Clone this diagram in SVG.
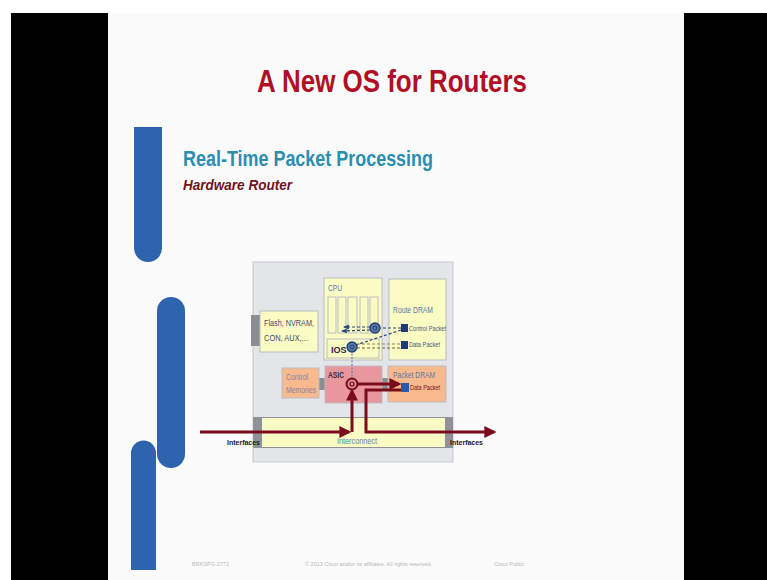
<svg xmlns="http://www.w3.org/2000/svg" width="767" height="580" viewBox="0 0 767 580">
<defs>
<style>
.box{stroke:#b9bdc4;stroke-width:1}
.yel{fill:#fbfbc4}
.org{fill:#f8ba8c}
.lbl{font-family:"Liberation Sans",Arial,sans-serif;font-size:8.5px;fill:#5a78a8}
.tiny{font-family:"Liberation Sans",Arial,sans-serif;font-size:6.5px;fill:#4a5a80}
.red{stroke:#7a0d1c;stroke-width:3;fill:none}
.dash{stroke:#2c4a7a;stroke-width:1.2;fill:none;stroke-dasharray:3 2}
.foot{font-family:"Liberation Sans",Arial,sans-serif;font-size:5.5px;fill:#b8b8b8}
</style>
<marker id="ar" viewBox="0 0 10 10" refX="8" refY="5" markerWidth="4" markerHeight="4" orient="auto"><path d="M0,0 L10,5 L0,10 z" fill="#7a0d1c"/></marker>
<marker id="ab" viewBox="0 0 10 10" refX="8" refY="5" markerWidth="5" markerHeight="5" orient="auto"><path d="M0,1 L10,5 L0,9 z" fill="#2c4a7a"/></marker>
</defs>
<rect width="767" height="580" fill="#ffffff"/>
<rect x="11" y="13" width="756" height="567" fill="#000000"/>
<rect x="108" y="13" width="576" height="567" fill="#fbfbfb"/>
<g id="bars" fill="#2e63ae">
<path d="M134,127 H162 V248 A14,14 0 0 1 134,248 Z"/>
<path d="M157,311 A14,14 0 0 1 185,311 V454 A14,14 0 0 1 157,454 Z"/>
<path d="M131,453 A12.5,12.5 0 0 1 156,453 V570 H131 Z"/>
</g>
<text x="392" y="92" text-anchor="middle" font-family="Liberation Sans,Arial,sans-serif" font-weight="bold" font-size="31" fill="#b01025" textLength="270" lengthAdjust="spacingAndGlyphs">A New OS for Routers</text>
<text x="183" y="166" font-family="Liberation Sans,Arial,sans-serif" font-weight="bold" font-size="22" fill="#2b8db0" textLength="250" lengthAdjust="spacingAndGlyphs">Real-Time Packet Processing</text>
<text x="183" y="190" font-family="Liberation Sans,Arial,sans-serif" font-weight="bold" font-style="italic" font-size="15.5" fill="#6e1424" textLength="109" lengthAdjust="spacingAndGlyphs">Hardware Router</text>
<g id="chassis"><rect x="253" y="262" width="200" height="200" fill="#e3e5e9" stroke="#c4c7cc"/></g>
<g id="flash">
<rect x="251" y="315" width="10" height="31" fill="#8a8d93"/>
<rect x="260" y="311" width="58" height="41" class="box yel"/>
<text x="264" y="326" class="lbl" fill="#3d4d70" style="fill:#3d4d70" textLength="50" lengthAdjust="spacingAndGlyphs">Flash, NVRAM,</text>
<text x="264" y="341" class="lbl" style="fill:#3d4d70" textLength="44" lengthAdjust="spacingAndGlyphs">CON, AUX,...</text>
</g>
<g id="cpu">
<rect x="324" y="278" width="58" height="82" class="box yel"/>
<text x="328" y="291" class="lbl" textLength="14" lengthAdjust="spacingAndGlyphs">CPU</text>
<rect x="328" y="297" width="8" height="36" class="box yel"/>
<rect x="338" y="297" width="8" height="36" class="box yel"/>
<rect x="348" y="297" width="9" height="36" class="box yel"/>
<rect x="360" y="297" width="8" height="36" class="box yel"/>
<rect x="370" y="297" width="8" height="36" class="box yel"/>
<rect x="327" y="339" width="52" height="19" class="box yel"/>
<text x="331" y="353" font-family="Liberation Sans,Arial,sans-serif" font-weight="bold" font-size="9" fill="#2a2a3a">IOS</text>
</g>
<g id="routedram">
<rect x="389" y="279" width="57" height="81" class="box yel"/>
<text x="393" y="313" class="lbl" textLength="40" lengthAdjust="spacingAndGlyphs">Route DRAM</text>
<rect x="401" y="324" width="7" height="8" fill="#1e3a78"/>
<rect x="401" y="341" width="7" height="8" fill="#1e3a78"/>
<text x="409" y="331" class="tiny" textLength="37" lengthAdjust="spacingAndGlyphs">Control Packet</text>
<text x="409" y="347" class="tiny" textLength="31" lengthAdjust="spacingAndGlyphs">Data Packet</text>
</g>
<g id="ctrlmem">
<rect x="319" y="378" width="7" height="12" fill="#8a8d93"/>
<rect x="282" y="368" width="37" height="30" class="box org"/>
<text x="286" y="380" class="lbl" style="fill:#8a82a8" textLength="22" lengthAdjust="spacingAndGlyphs">Control</text>
<text x="286" y="393" class="lbl" style="fill:#8a82a8" textLength="30" lengthAdjust="spacingAndGlyphs">Memories</text>
</g>
<g id="asic">
<rect x="382" y="378" width="7" height="12" fill="#8a8d93"/>
<rect x="325" y="366" width="57" height="37" class="box" fill="#e8979d"/>
<text x="328" y="378" font-family="Liberation Sans,Arial,sans-serif" font-weight="bold" font-size="8.5" fill="#3a2a3a" textLength="16" lengthAdjust="spacingAndGlyphs">ASIC</text>
</g>
<g id="packetdram">
<rect x="388" y="366" width="58" height="36" class="box org"/>
<text x="393" y="378" class="lbl" textLength="42" lengthAdjust="spacingAndGlyphs">Packet DRAM</text>
<rect x="401" y="383" width="8" height="9" fill="#2a5aa8"/>
<text x="410" y="390" class="tiny" style="fill:#7a1020" textLength="30" lengthAdjust="spacingAndGlyphs">Data Packet</text>
</g>
<g id="interconnect">
<rect x="253" y="417" width="200" height="31" fill="#8f9298"/>
<rect x="262" y="418" width="183" height="29" fill="#fbfbc4"/>
<text x="357" y="444" text-anchor="middle" font-family="Liberation Sans,Arial,sans-serif" font-size="9.5" fill="#5a88b8" textLength="40" lengthAdjust="spacingAndGlyphs">Interconnect</text>
</g>
<g id="connectors">
<line x1="352" y1="350" x2="352" y2="378" stroke="#6a8aa8" stroke-width="1.3" stroke-dasharray="2 1.5"/>
<line x1="401" y1="328" x2="380" y2="328" class="dash"/>
<line x1="370" y1="327" x2="344" y2="327" class="dash" marker-end="url(#ab)"/>
<line x1="370" y1="330" x2="342" y2="331" class="dash" marker-end="url(#ab)"/>
<line x1="401" y1="330" x2="356" y2="345" class="dash"/>
<line x1="357" y1="344" x2="400" y2="344" stroke="#8a8a40" stroke-width="1.2" stroke-dasharray="3 2"/>
<line x1="357" y1="348" x2="400" y2="348" stroke="#6a6a30" stroke-width="1.2" stroke-dasharray="3 2"/>
<circle cx="375" cy="328" r="5" fill="#5a7aa8" stroke="#1e3a78" stroke-width="1.3"/>
<circle cx="375" cy="328" r="2" fill="none" stroke="#1e3a78" stroke-width="1"/>
<circle cx="352" cy="347" r="5" fill="#5a7aa8" stroke="#1e3a78" stroke-width="1.3"/>
<circle cx="352" cy="347" r="2" fill="none" stroke="#1e3a78" stroke-width="1"/>
<polyline points="200,432 349,432" class="red" marker-end="url(#ar)"/>
<polyline points="352,432 352,391" class="red" marker-end="url(#ar)"/>
<polyline points="357,384 399,384" class="red" marker-end="url(#ar)"/>
<polyline points="401,390 366,390 366,432 494,432" class="red" marker-end="url(#ar)"/>
<circle cx="352" cy="384" r="5.5" fill="#d98a92" stroke="#7a0d1c" stroke-width="2"/>
<circle cx="352" cy="384" r="2" fill="none" stroke="#7a0d1c" stroke-width="1.2"/>
</g>
<text x="227" y="445" font-family="Liberation Sans,Arial,sans-serif" font-weight="bold" font-size="8" fill="#1a1a1a" textLength="33" lengthAdjust="spacingAndGlyphs">Interfaces</text>
<text x="450" y="445" font-family="Liberation Sans,Arial,sans-serif" font-weight="bold" font-size="8" fill="#1a1a1a" textLength="33" lengthAdjust="spacingAndGlyphs">Interfaces</text>
<text x="192" y="566" class="foot">BRKSPG-2772</text>
<text x="305" y="566" class="foot">© 2013 Cisco and/or its affiliates. All rights reserved.</text>
<text x="494" y="566" class="foot">Cisco Public</text>
</svg>
